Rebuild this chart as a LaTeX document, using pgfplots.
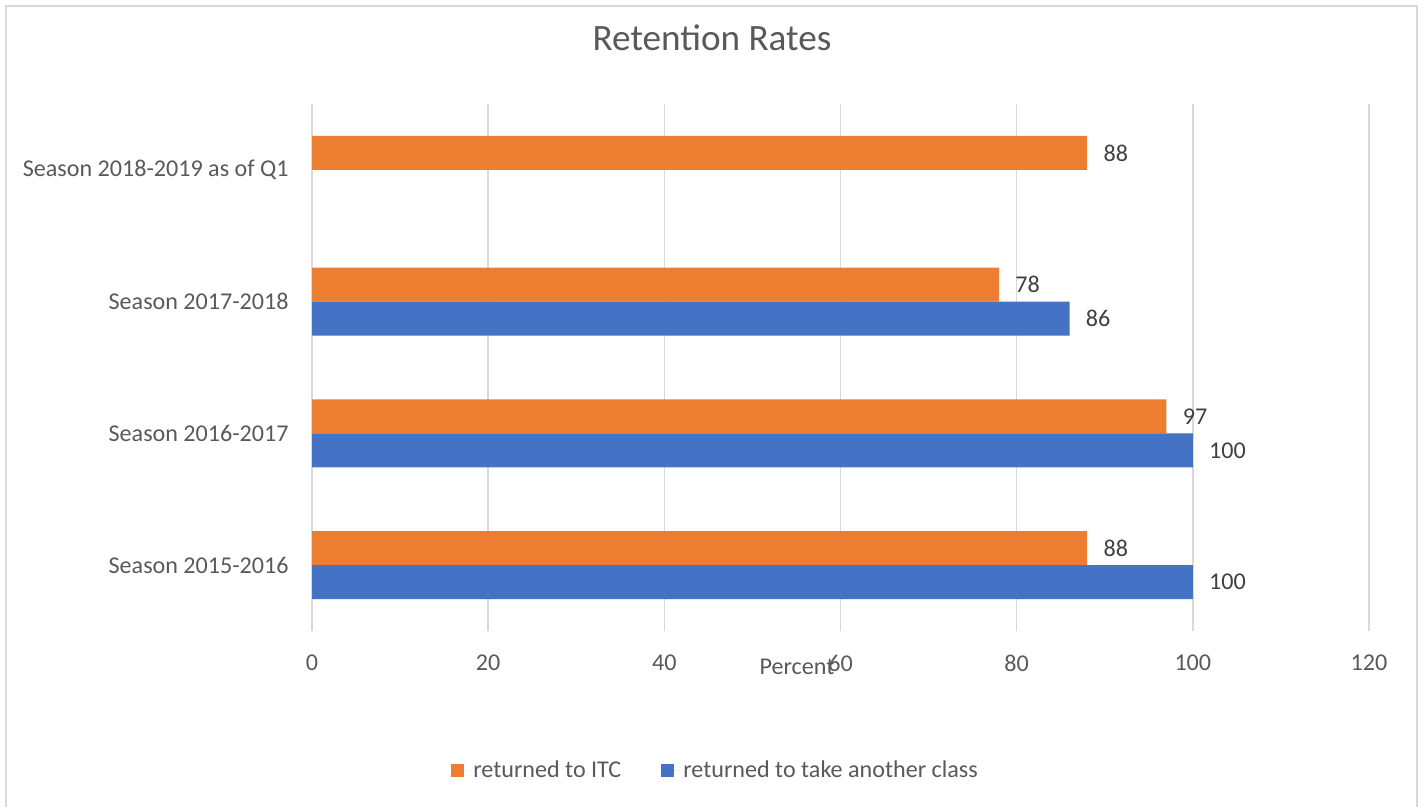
\documentclass[border=0pt]{standalone}
\usepackage{fontspec}
\setmainfont{Carlito}
\usepackage{pgfplots}
\pgfplotsset{compat=1.18}
\definecolor{orangebar}{HTML}{ED7D31}
\definecolor{bluebar}{HTML}{4472C4}
\definecolor{gridgray}{HTML}{D9D9D9}
\definecolor{txtgray}{HTML}{595959}
\definecolor{lblgray}{HTML}{404040}
\newcommand{\tfont}{\fontsize{12.05}{14}\selectfont}
\begin{document}
\begin{tikzpicture}
\path[use as bounding box] (0,0) rectangle (711.5pt,403.5pt);
\draw[gridgray, line width=0.75pt] (3pt,-2pt) -- (3pt,400.5pt) -- (708.5pt,400.5pt) -- (708.5pt,-2pt);
\begin{axis}[
  at={(156pt,88pt)}, anchor=south west,
  scale only axis, width=528.5pt, height=263.5pt,
  xbar, bar width=17pt,
  xmin=0, xmax=120, ymin=-0.5, ymax=3.5,
  xtick={0,20,...,120}, ytick={0,1,2,3},
  yticklabels={Season 2015-2016, Season 2016-2017, Season 2017-2018, Season 2018-2019 as of Q1},
  major tick length=0pt,
  axis line style={draw=none},
  xmajorgrids, grid style={draw=gridgray, line width=0.75pt},
  tick label style={font=\tfont, text=txtgray, inner sep=0pt},
  /pgf/number format/assume math mode=true,
  yticklabel style={xshift=-11.5pt},
  xticklabel style={yshift=-11.75pt},
  xlabel={Percent},
  xlabel style={at={(axis description cs:0.4588,0)}, anchor=center, yshift=-18pt, font=\tfont, text=txtgray},
  title={Retention Rates},
  title style={at={(axis description cs:0.3784,1)}, anchor=center, yshift=27pt, font=\fontsize{18.6}{22}\selectfont, text=txtgray},
  nodes near coords,
  nodes near coords style={font=\tfont, text=lblgray, anchor=west, inner sep=0pt, xshift=8pt},
  legend style={at={(axis description cs:0.3827,0)}, anchor=center, yshift=-70pt, draw=none, font=\tfont, text=txtgray,
    legend columns=2, /tikz/every even column/.append style={column sep=18pt}},
  legend image code/.code={\path (0pt,0pt) -- (9pt,0pt);\fill[#1] (0pt,-3.25pt) rectangle (6.5pt,3.25pt);},
]
\addplot[fill=orangebar, draw=none, bar shift=8.5pt] coordinates {(88,0) (97,1) (78,2) (88,3)};
\addlegendentry{returned to ITC}
\addplot[fill=bluebar, draw=none, bar shift=-8.5pt] coordinates {(100,0) (100,1) (86,2)};
\addlegendentry{returned to take another class}
\end{axis}
\end{tikzpicture}
\end{document}
